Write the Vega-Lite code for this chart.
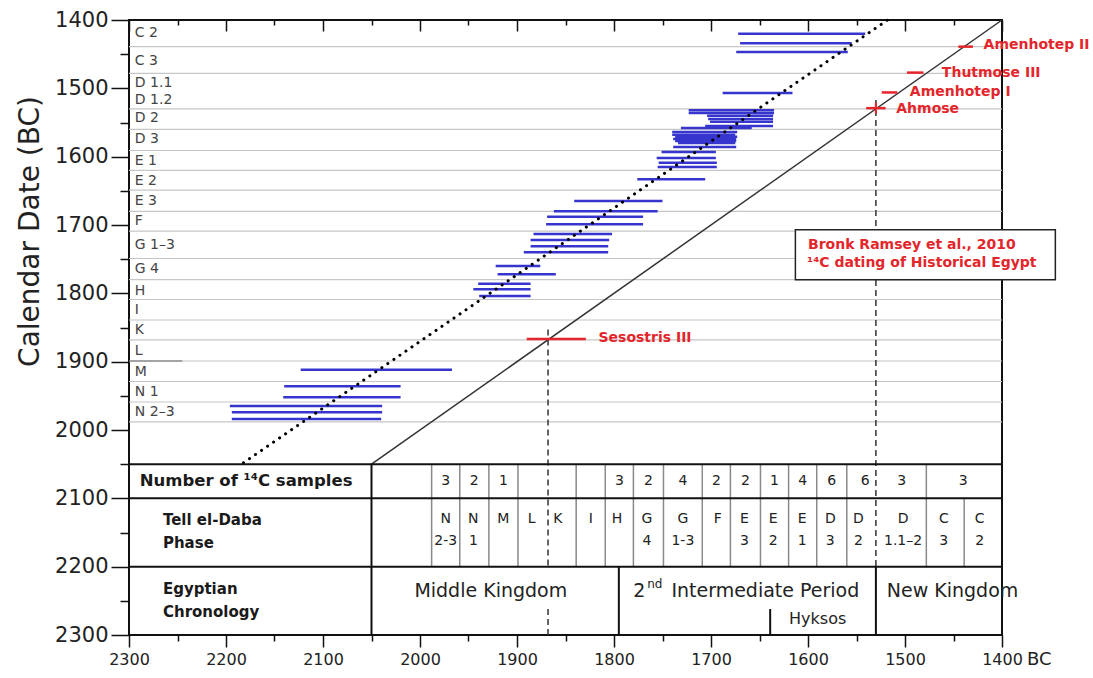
{
  "$schema": "https://vega.github.io/schema/vega-lite/v6.json",
  "width": 873,
  "height": 615,
  "autosize": {"type": "none"},
  "padding": {"left": 129, "top": 20, "right": 91, "bottom": 43},
  "background": "white",
  "config": {
    "view": {"stroke": "#111", "strokeWidth": 2},
    "font": "DejaVu Sans",
    "text": {"font": "DejaVu Sans"}
  },
  "resolve": {"axis": {"x": "independent", "y": "independent"}},
  "datasets": {
    "bounds": [
      {"year": 1439}, {"year": 1478}, {"year": 1530}, {"year": 1560}, {"year": 1591},
      {"year": 1620}, {"year": 1649}, {"year": 1680}, {"year": 1709}, {"year": 1749},
      {"year": 1780}, {"year": 1809}, {"year": 1839}, {"year": 1868}, {"year": 1899},
      {"year": 1929}, {"year": 1959}, {"year": 1988}
    ],
    "phaseLabels": [
      {"label": "C 2", "year": 1419.5},
      {"label": "C 3", "year": 1459.5},
      {"label": "D 1.1", "year": 1491.5},
      {"label": "D 1.2", "year": 1517},
      {"label": "D 2", "year": 1544},
      {"label": "D 3", "year": 1574},
      {"label": "E 1", "year": 1606},
      {"label": "E 2", "year": 1636},
      {"label": "E 3", "year": 1665},
      {"label": "F", "year": 1694},
      {"label": "G 1–3", "year": 1729},
      {"label": "G 4", "year": 1765},
      {"label": "H", "year": 1796},
      {"label": "I", "year": 1825},
      {"label": "K", "year": 1854},
      {"label": "L", "year": 1885},
      {"label": "M", "year": 1914.5},
      {"label": "N 1", "year": 1944},
      {"label": "N 2–3", "year": 1973}
    ],
    "bars": [
      {"phase": "C", "from": 1672, "to": 1541, "date": 1420},
      {"phase": "C", "from": 1670, "to": 1555, "date": 1434},
      {"phase": "C", "from": 1674, "to": 1559, "date": 1447},
      {"phase": "D 1", "from": 1688, "to": 1616, "date": 1507},
      {"phase": "D 1", "from": 1723, "to": 1635, "date": 1532},
      {"phase": "D 1", "from": 1723, "to": 1635, "date": 1536},
      {"phase": "D 2", "from": 1704, "to": 1636, "date": 1540},
      {"phase": "D 2", "from": 1703, "to": 1636, "date": 1545},
      {"phase": "D 2", "from": 1701, "to": 1636, "date": 1549},
      {"phase": "D 2", "from": 1706, "to": 1636, "date": 1555},
      {"phase": "D 2", "from": 1731, "to": 1658, "date": 1558},
      {"phase": "D 2", "from": 1740, "to": 1673, "date": 1564},
      {"phase": "D 3", "from": 1740, "to": 1675, "date": 1568},
      {"phase": "D 3", "from": 1737, "to": 1673, "date": 1571},
      {"phase": "D 3", "from": 1739, "to": 1674, "date": 1574},
      {"phase": "D 3", "from": 1737, "to": 1674, "date": 1577},
      {"phase": "D 3", "from": 1734, "to": 1675, "date": 1580},
      {"phase": "D 3", "from": 1739, "to": 1674, "date": 1586},
      {"phase": "E 1", "from": 1751, "to": 1695, "date": 1593},
      {"phase": "E 1", "from": 1756, "to": 1695, "date": 1602},
      {"phase": "E 1", "from": 1754, "to": 1694, "date": 1609},
      {"phase": "E 1", "from": 1755, "to": 1694, "date": 1615},
      {"phase": "E 2", "from": 1776, "to": 1706, "date": 1633},
      {"phase": "E 3", "from": 1841, "to": 1750, "date": 1665},
      {"phase": "E 3", "from": 1862, "to": 1755, "date": 1680},
      {"phase": "F", "from": 1869, "to": 1770, "date": 1688},
      {"phase": "F", "from": 1870, "to": 1770, "date": 1699},
      {"phase": "G 1-3", "from": 1883, "to": 1802, "date": 1713},
      {"phase": "G 1-3", "from": 1886, "to": 1805, "date": 1722},
      {"phase": "G 1-3", "from": 1886, "to": 1806, "date": 1731},
      {"phase": "G 1-3", "from": 1893, "to": 1806, "date": 1740},
      {"phase": "G 4", "from": 1922, "to": 1876, "date": 1760},
      {"phase": "G 4", "from": 1920, "to": 1860, "date": 1772},
      {"phase": "H", "from": 1940, "to": 1886, "date": 1786},
      {"phase": "H", "from": 1945, "to": 1886, "date": 1794},
      {"phase": "H", "from": 1939, "to": 1886, "date": 1804},
      {"phase": "M", "from": 2123, "to": 1967, "date": 1912},
      {"phase": "N 1", "from": 2140, "to": 2020, "date": 1936},
      {"phase": "N 1", "from": 2141, "to": 2020, "date": 1952},
      {"phase": "N 2-3", "from": 2196, "to": 2039, "date": 1965},
      {"phase": "N 2-3", "from": 2194, "to": 2039, "date": 1974},
      {"phase": "N 2-3", "from": 2194, "to": 2040, "date": 1984}
    ],
    "trend": [{"x": 2182, "y": 2048, "x2": 1518, "y2": 1400}],
    "identity": [{"x": 2050, "y": 2050, "x2": 1400, "y2": 1400}],
    "guides": [
      {"x": 1868, "y": 1853, "y2": 2200},
      {"x": 1868, "y": 2262, "y2": 2300},
      {"x": 1530, "y": 1517, "y2": 2200}
    ],
    "tableRows": [{"y": 2050}, {"y": 2100}, {"y": 2200}],
    "tableFrame": [
      {"x": 2050, "y": 2050, "y2": 2300},
      {"x": 1795, "y": 2200, "y2": 2300},
      {"x": 1530, "y": 2200, "y2": 2300},
      {"x": 1639, "y": 2262, "y2": 2300}
    ],
    "tableCols": [
      {"x": 1988, "y": 2050, "y2": 2200},
      {"x": 1959, "y": 2050, "y2": 2200},
      {"x": 1929, "y": 2050, "y2": 2200},
      {"x": 1899, "y": 2050, "y2": 2200},
      {"x": 1839, "y": 2050, "y2": 2200},
      {"x": 1809, "y": 2050, "y2": 2200},
      {"x": 1780, "y": 2050, "y2": 2200},
      {"x": 1749, "y": 2050, "y2": 2200},
      {"x": 1709, "y": 2050, "y2": 2200},
      {"x": 1680, "y": 2050, "y2": 2200},
      {"x": 1649, "y": 2050, "y2": 2200},
      {"x": 1620, "y": 2050, "y2": 2200},
      {"x": 1591, "y": 2050, "y2": 2200},
      {"x": 1560, "y": 2050, "y2": 2200},
      {"x": 1478, "y": 2050, "y2": 2200},
      {"x": 1439, "y": 2100, "y2": 2200}
    ],
    "samples": [
      {"x": 1973.5, "n": "3"}, {"x": 1944, "n": "2"}, {"x": 1914, "n": "1"},
      {"x": 1794.5, "n": "3"}, {"x": 1764.5, "n": "2"}, {"x": 1729, "n": "4"},
      {"x": 1694.5, "n": "2"}, {"x": 1664.5, "n": "2"}, {"x": 1634.5, "n": "1"},
      {"x": 1605.5, "n": "4"}, {"x": 1575.5, "n": "6"}, {"x": 1541, "n": "6"},
      {"x": 1503.5, "n": "3"}, {"x": 1440, "n": "3"}
    ],
    "cells": [
      {"x": 1973.5, "top": "N", "bottom": "2-3"},
      {"x": 1945, "top": "N", "bottom": "1"},
      {"x": 1914, "top": "M", "bottom": ""},
      {"x": 1885, "top": "L", "bottom": ""},
      {"x": 1858, "top": "K", "bottom": ""},
      {"x": 1824, "top": "I", "bottom": ""},
      {"x": 1797, "top": "H", "bottom": ""},
      {"x": 1766, "top": "G", "bottom": "4"},
      {"x": 1729, "top": "G", "bottom": "1-3"},
      {"x": 1693, "top": "F", "bottom": ""},
      {"x": 1665.5, "top": "E", "bottom": "3"},
      {"x": 1636, "top": "E", "bottom": "2"},
      {"x": 1606, "top": "E", "bottom": "1"},
      {"x": 1577, "top": "D", "bottom": "3"},
      {"x": 1548, "top": "D", "bottom": "2"},
      {"x": 1502, "top": "D", "bottom": "1.1–2"},
      {"x": 1460, "top": "C", "bottom": "3"},
      {"x": 1423, "top": "C", "bottom": "2"}
    ],
    "sampleHeader": [
      {"text": "Number  of ¹⁴C samples", "x": 2289, "y": 2075}
    ],
    "headers": [
      {"text": "Tell el-Daba", "x": 2265, "y": 2131},
      {"text": "Phase", "x": 2265, "y": 2165},
      {"text": "Egyptian", "x": 2265, "y": 2233},
      {"text": "Chronology", "x": 2265, "y": 2266}
    ],
    "eras": [
      {"text": "Middle Kingdom", "x": 1927},
      {"text": "2", "x": 1774},
      {"text": "Intermediate Period", "x": 1644},
      {"text": "New Kingdom", "x": 1451}
    ],
    "rulers": [
      {"name": "Amenhotep II", "from": 1445, "to": 1430, "date": 1439},
      {"name": "Thutmose III", "from": 1498, "to": 1481, "date": 1477},
      {"name": "Amenhotep I", "from": 1524, "to": 1508, "date": 1506},
      {"name": "Ahmose", "from": 1540, "to": 1520, "date": 1529},
      {"name": "Sesostris III", "from": 1890, "to": 1829, "date": 1867}
    ],
    "rulerLabels": [
      {"name": "Amenhotep II", "x": 1419, "y": 1437},
      {"name": "Thutmose III", "x": 1462, "y": 1478},
      {"name": "Amenhotep I", "x": 1495, "y": 1505},
      {"name": "Ahmose", "x": 1509, "y": 1530},
      {"name": "Sesostris III", "x": 1816, "y": 1865}
    ],
    "box": [{"x": 1613, "x2": 1345, "y": 1707, "y2": 1780}],
    "boxText": [
      {"text": "Bronk Ramsey et al., 2010", "x": 1600, "y": 1729},
      {"text": "¹⁴C dating of Historical Egypt", "x": 1601, "y": 1756}
    ]
  },
  "layer": [
    {
      "data": {"name": "bounds"},
      "mark": {"type": "rule", "color": "#c6c6c6", "strokeWidth": 1.2},
      "encoding": {
        "x": {
          "datum": 2300, "type": "quantitative",
          "scale": {"domain": [2300, 1400], "nice": false, "zero": false},
          "axis": {
            "orient": "bottom",
            "values": [2300, 2250, 2200, 2150, 2100, 2050, 2000, 1950, 1900, 1850, 1800, 1750, 1700, 1650, 1600, 1550, 1500, 1450, 1400],
            "format": "d",
            "labelExpr": "datum.value % 100 == 0 ? datum.label : ''",
            "tickSize": {"condition": {"test": "datum.value % 100 == 0", "value": 12}, "value": 6},
            "tickColor": "#111", "tickWidth": 1.5,
            "domain": false, "grid": false, "title": null,
            "labelFlush": false, "labelOverlap": false,
            "labelFont": "DejaVu Sans", "labelFontSize": 16, "labelColor": "#222", "labelPadding": 4
          }
        },
        "x2": {"datum": 1400},
        "y": {
          "field": "year", "type": "quantitative",
          "scale": {"domain": [2300, 1400], "nice": false, "zero": false},
          "axis": {
            "orient": "left",
            "values": [2300, 2250, 2200, 2150, 2100, 2050, 2000, 1950, 1900, 1850, 1800, 1750, 1700, 1650, 1600, 1550, 1500, 1450, 1400],
            "format": "d",
            "labelExpr": "datum.value % 100 == 0 ? datum.label : ''",
            "tickSize": {"condition": {"test": "datum.value % 100 == 0", "value": 18}, "value": 9},
            "tickColor": "#111", "tickWidth": 1.5,
            "domain": false, "grid": false,
            "labelFlush": false, "labelOverlap": false,
            "labelFont": "DejaVu Sans", "labelFontSize": 21, "labelColor": "#222", "labelPadding": 3,
            "title": "Calendar Date (BC)",
            "titleFont": "DejaVu Sans", "titleFontSize": 28, "titleFontWeight": "normal", "titleColor": "#222",
            "titleX": -99, "titleY": 211, "titleAngle": -90, "titleAlign": "center", "titleBaseline": "middle"
          }
        }
      }
    },
    {
      "data": {"values": [{"year": 1899}]},
      "mark": {"type": "rule", "color": "#666", "strokeWidth": 1.2},
      "encoding": {
        "x": {
          "datum": 2300, "type": "quantitative",
          "scale": {"domain": [2300, 1400], "nice": false, "zero": false},
          "axis": {
            "orient": "top",
            "values": [2300, 2250, 2200, 2150, 2100, 2050, 2000, 1950, 1900, 1850, 1800, 1750, 1700, 1650, 1600, 1550, 1500, 1450, 1400],
            "labels": false,
            "tickSize": {"condition": {"test": "datum.value % 100 == 0", "value": -11}, "value": -5},
            "tickColor": "#111", "tickWidth": 1.5,
            "domain": false, "grid": false, "title": null
          }
        },
        "x2": {"datum": 2245},
        "y": {"field": "year", "type": "quantitative", "scale": {"domain": [2300, 1400], "nice": false, "zero": false}, "axis": null}
      }
    },
    {
      "data": {"name": "phaseLabels"},
      "mark": {"type": "text", "align": "left", "baseline": "middle", "fontSize": 14, "color": "#444"},
      "encoding": {
        "x": {"datum": 2294, "type": "quantitative", "axis": null},
        "y": {"field": "year", "type": "quantitative", "axis": null},
        "text": {"field": "label"}
      }
    },
    {
      "data": {"name": "bars"},
      "mark": {"type": "rule", "color": "#3636cf", "strokeWidth": 2.5},
      "encoding": {
        "x": {"field": "from", "type": "quantitative", "axis": null},
        "x2": {"field": "to"},
        "y": {"field": "date", "type": "quantitative", "axis": null}
      }
    },
    {
      "data": {"name": "trend"},
      "mark": {"type": "rule", "color": "#000", "strokeWidth": 3, "strokeCap": "round", "strokeDash": [0.1, 7.2]},
      "encoding": {
        "x": {"field": "x", "type": "quantitative", "axis": null},
        "x2": {"field": "x2"},
        "y": {"field": "y", "type": "quantitative", "axis": null},
        "y2": {"field": "y2"}
      }
    },
    {
      "data": {"name": "identity"},
      "mark": {"type": "rule", "color": "#333", "strokeWidth": 1.5},
      "encoding": {
        "x": {"field": "x", "type": "quantitative", "axis": null},
        "x2": {"field": "x2"},
        "y": {"field": "y", "type": "quantitative", "axis": null},
        "y2": {"field": "y2"}
      }
    },
    {
      "data": {"name": "guides"},
      "mark": {"type": "rule", "color": "#333", "strokeWidth": 1.5, "strokeDash": [6, 4]},
      "encoding": {
        "x": {"field": "x", "type": "quantitative", "axis": null},
        "y": {"field": "y", "type": "quantitative", "axis": null},
        "y2": {"field": "y2"}
      }
    },
    {
      "data": {"name": "tableCols"},
      "mark": {"type": "rule", "color": "#8a8a8a", "strokeWidth": 1.5},
      "encoding": {
        "x": {"field": "x", "type": "quantitative", "axis": null},
        "y": {"field": "y", "type": "quantitative", "axis": null},
        "y2": {"field": "y2"}
      }
    },
    {
      "data": {"name": "tableRows"},
      "mark": {"type": "rule", "color": "#111", "strokeWidth": 2},
      "encoding": {
        "x": {"datum": 2300, "type": "quantitative", "axis": null},
        "x2": {"datum": 1400},
        "y": {"field": "y", "type": "quantitative", "axis": null}
      }
    },
    {
      "data": {"name": "tableFrame"},
      "mark": {"type": "rule", "color": "#111", "strokeWidth": 2},
      "encoding": {
        "x": {"field": "x", "type": "quantitative", "axis": null},
        "y": {"field": "y", "type": "quantitative", "axis": null},
        "y2": {"field": "y2"}
      }
    },
    {
      "data": {"name": "rulers"},
      "mark": {"type": "rule", "color": "#e3262b", "strokeWidth": 2.5},
      "encoding": {
        "x": {"field": "from", "type": "quantitative", "axis": null},
        "x2": {"field": "to"},
        "y": {"field": "date", "type": "quantitative", "axis": null}
      }
    },
    {
      "data": {"values": [{"year": 1530, "low": 1521, "high": 1537}]},
      "mark": {"type": "rule", "color": "#e3262b", "strokeWidth": 2},
      "encoding": {
        "x": {"field": "year", "type": "quantitative", "axis": null},
        "y": {"field": "low", "type": "quantitative", "axis": null},
        "y2": {"field": "high"}
      }
    },
    {
      "data": {"name": "rulerLabels"},
      "mark": {"type": "text", "align": "left", "baseline": "middle", "fontSize": 14, "fontWeight": "bold", "color": "#e3262b"},
      "encoding": {
        "x": {"field": "x", "type": "quantitative", "axis": null},
        "y": {"field": "y", "type": "quantitative", "axis": null},
        "text": {"field": "name"}
      }
    },
    {
      "data": {"name": "box"},
      "mark": {"type": "rect", "fill": "white", "stroke": "#222", "strokeWidth": 1.5},
      "encoding": {
        "x": {"field": "x", "type": "quantitative", "axis": null},
        "x2": {"field": "x2"},
        "y": {"field": "y", "type": "quantitative", "axis": null},
        "y2": {"field": "y2"}
      }
    },
    {
      "data": {"name": "boxText"},
      "mark": {"type": "text", "align": "left", "baseline": "middle", "fontSize": 14, "fontWeight": "bold", "color": "#e3262b"},
      "encoding": {
        "x": {"field": "x", "type": "quantitative", "axis": null},
        "y": {"field": "y", "type": "quantitative", "axis": null},
        "text": {"field": "text"}
      }
    },
    {
      "data": {"name": "samples"},
      "mark": {"type": "text", "align": "center", "baseline": "middle", "fontSize": 14, "color": "#222"},
      "encoding": {
        "x": {"field": "x", "type": "quantitative", "axis": null},
        "y": {"datum": 2075, "type": "quantitative", "axis": null},
        "text": {"field": "n"}
      }
    },
    {
      "data": {"name": "cells"},
      "mark": {"type": "text", "align": "center", "baseline": "middle", "fontSize": 14, "color": "#222"},
      "encoding": {
        "x": {"field": "x", "type": "quantitative", "axis": null},
        "y": {"datum": 2130, "type": "quantitative", "axis": null},
        "text": {"field": "top"}
      }
    },
    {
      "data": {"name": "cells"},
      "mark": {"type": "text", "align": "center", "baseline": "middle", "fontSize": 14, "color": "#222"},
      "encoding": {
        "x": {"field": "x", "type": "quantitative", "axis": null},
        "y": {"datum": 2162, "type": "quantitative", "axis": null},
        "text": {"field": "bottom"}
      }
    },
    {
      "data": {"name": "sampleHeader"},
      "mark": {"type": "text", "align": "left", "baseline": "middle", "fontSize": 16.5, "fontWeight": "bold", "color": "#1a1a1a"},
      "encoding": {
        "x": {"field": "x", "type": "quantitative", "axis": null},
        "y": {"field": "y", "type": "quantitative", "axis": null},
        "text": {"field": "text"}
      }
    },
    {
      "data": {"name": "headers"},
      "mark": {"type": "text", "align": "left", "baseline": "middle", "fontSize": 15, "fontWeight": "bold", "color": "#1a1a1a"},
      "encoding": {
        "x": {"field": "x", "type": "quantitative", "axis": null},
        "y": {"field": "y", "type": "quantitative", "axis": null},
        "text": {"field": "text"}
      }
    },
    {
      "data": {"name": "eras"},
      "mark": {"type": "text", "align": "center", "baseline": "middle", "fontSize": 19, "color": "#222"},
      "encoding": {
        "x": {"field": "x", "type": "quantitative", "axis": null},
        "y": {"datum": 2236, "type": "quantitative", "axis": null},
        "text": {"field": "text"}
      }
    },
    {
      "data": {"values": [{"text": "nd", "x": 1758}]},
      "mark": {"type": "text", "align": "center", "baseline": "middle", "fontSize": 12, "color": "#222"},
      "encoding": {
        "x": {"field": "x", "type": "quantitative", "axis": null},
        "y": {"datum": 2225, "type": "quantitative", "axis": null},
        "text": {"field": "text"}
      }
    },
    {
      "data": {"values": [{"text": "Hyksos", "x": 1590}]},
      "mark": {"type": "text", "align": "center", "baseline": "middle", "fontSize": 16, "color": "#222"},
      "encoding": {
        "x": {"field": "x", "type": "quantitative", "axis": null},
        "y": {"datum": 2277, "type": "quantitative", "axis": null},
        "text": {"field": "text"}
      }
    },
    {
      "data": {"values": [{"text": "BC", "x": 1400, "y": 2300}]},
      "mark": {"type": "text", "align": "left", "baseline": "middle", "fontSize": 18, "color": "#222", "dx": 25, "dy": 25},
      "encoding": {
        "x": {"field": "x", "type": "quantitative", "axis": null},
        "y": {"field": "y", "type": "quantitative", "axis": null},
        "text": {"field": "text"}
      }
    }
  ]
}
